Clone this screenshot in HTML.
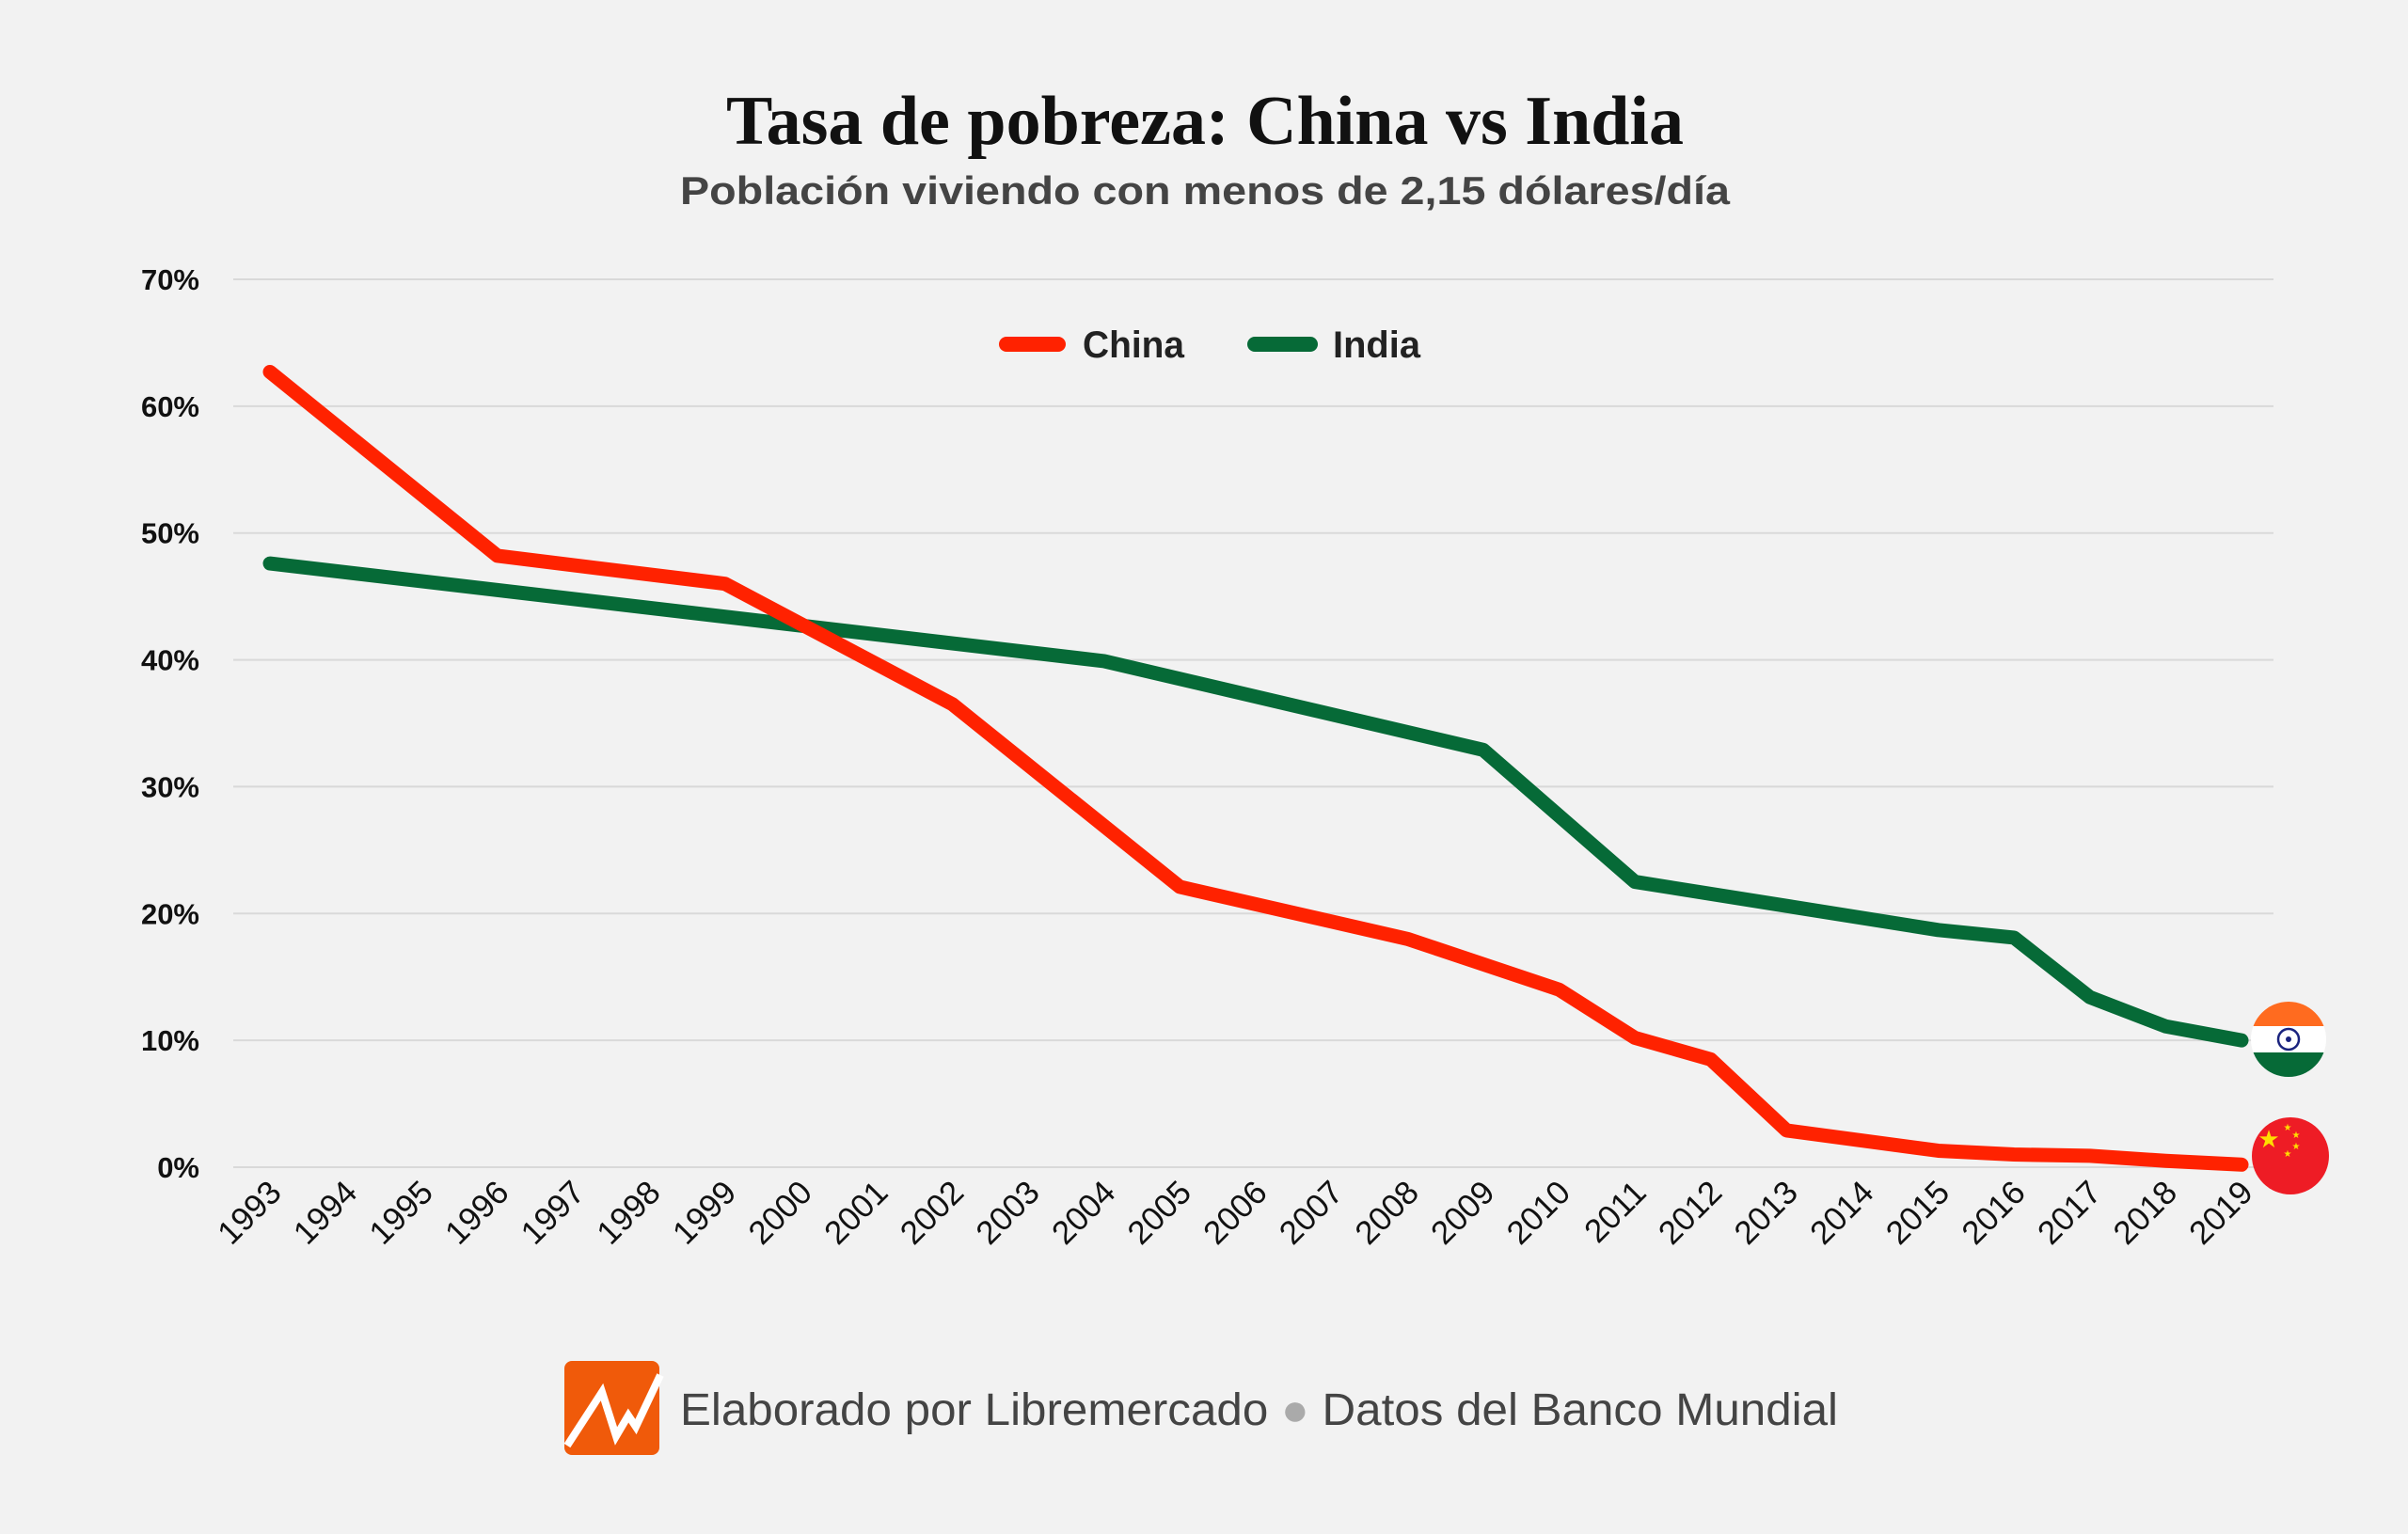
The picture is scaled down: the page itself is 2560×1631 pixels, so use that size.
<!DOCTYPE html>
<html><head><meta charset="utf-8"><style>
html,body{margin:0;padding:0;background:#f2f2f2;}
svg{display:block;}
</style></head><body>
<svg id="chart" width="2560" height="1631" viewBox="0 0 2560 1631" xmlns="http://www.w3.org/2000/svg">
<rect width="2560" height="1631" fill="#f2f2f2"/>
<text x="1281" y="153" text-anchor="middle" font-family="Liberation Serif, serif" font-weight="bold" font-size="74" fill="#111" textLength="1018" lengthAdjust="spacingAndGlyphs">Tasa de pobreza: China vs India</text>
<text x="1281" y="217" text-anchor="middle" font-family="Liberation Sans, sans-serif" font-weight="bold" font-size="42" fill="#444" textLength="1116" lengthAdjust="spacingAndGlyphs">Población viviendo con menos de 2,15 dólares/día</text>
<g id="grid"></g>
<g id="ylabels"></g>
<g id="xlabels"></g>
<g id="lines"></g>
<g>
<line x1="1070" y1="366" x2="1125" y2="366" stroke="#ff2200" stroke-width="16" stroke-linecap="round"/>
<text x="1151" y="380" font-family="Liberation Sans, sans-serif" font-weight="bold" font-size="40" fill="#222" textLength="108" lengthAdjust="spacingAndGlyphs">China</text>
<line x1="1334" y1="366" x2="1393" y2="366" stroke="#066a37" stroke-width="16" stroke-linecap="round"/>
<text x="1417" y="380" font-family="Liberation Sans, sans-serif" font-weight="bold" font-size="40" fill="#222" textLength="93" lengthAdjust="spacingAndGlyphs">India</text>
</g>
<g>
<clipPath id="ci"><circle cx="2433" cy="1105" r="40"/></clipPath>
<g clip-path="url(#ci)">
<rect x="2390" y="1060" width="90" height="31" fill="#ff6b1f"/>
<rect x="2390" y="1091" width="90" height="28" fill="#ffffff"/>
<rect x="2390" y="1119" width="90" height="31" fill="#066a37"/>
</g>
<circle cx="2433" cy="1105" r="11" fill="none" stroke="#1a237e" stroke-width="2.5"/>
<circle cx="2433" cy="1105" r="3" fill="#1a237e"/>
</g>
<g>
<circle cx="2435" cy="1229" r="41" fill="#ee1c25"/>
<text x="2412" y="1220" font-size="26" fill="#ffde00" font-family="DejaVu Sans, sans-serif" text-anchor="middle">★</text>
<text x="2432" y="1202" font-size="10" fill="#ffde00" font-family="DejaVu Sans, sans-serif" text-anchor="middle">★</text>
<text x="2441" y="1210" font-size="10" fill="#ffde00" font-family="DejaVu Sans, sans-serif" text-anchor="middle">★</text>
<text x="2441" y="1222" font-size="10" fill="#ffde00" font-family="DejaVu Sans, sans-serif" text-anchor="middle">★</text>
<text x="2432" y="1230" font-size="10" fill="#ffde00" font-family="DejaVu Sans, sans-serif" text-anchor="middle">★</text>
</g>
<g>
<g>
<rect x="600" y="1447" width="101" height="100" rx="8" fill="#f05a0a"/>
<polyline points="603,1537 640,1480 655,1527 668,1505 676,1517 702,1462" fill="none" stroke="#fff" stroke-width="8"/>
</g>
<text x="723" y="1515" font-family="Liberation Sans, sans-serif" font-size="48" fill="#444" textLength="1231" lengthAdjust="spacingAndGlyphs">Elaborado por Libremercado <tspan fill="#aaa">●</tspan> Datos del Banco Mundial</text>
</g>
</svg>
<script>
const years = [1993,1994,1995,1996,1997,1998,1999,2000,2001,2002,2003,2004,2005,2006,2007,2008,2009,2010,2011,2012,2013,2014,2015,2016,2017,2018,2019];
const chinaYears = [1993,1996,1999,2002,2005,2008,2010,2011,2012,2013,2015,2016,2017,2018,2019];
const chinaValues = [62.7,48.2,46.0,36.5,22.1,18.0,14.0,10.2,8.5,2.9,1.3,1.0,0.9,0.5,0.2];
const indiaYears = [1993,2004,2009,2011,2015,2016,2017,2018,2019];
const indiaValues = [47.6,39.9,32.9,22.5,18.7,18.1,13.4,11.1,10.0];
const yTicks = [0,10,20,30,40,50,60,70];
const yTickLabels = ["0%","10%","20%","30%","40%","50%","60%","70%"];

const NS = "http://www.w3.org/2000/svg";
const X0 = 287, X1 = 2383, Y0 = 1241, Y70 = 297;
function xs(yr){ return X0 + (yr - 1993) * (X1 - X0) / 26; }
function ys(v){ return Y0 - v * (Y0 - Y70) / 70; }

const grid = document.getElementById('grid');
const yl = document.getElementById('ylabels');
yTicks.forEach((t,i)=>{
  const l = document.createElementNS(NS,'line');
  
  
  l.setAttribute('x1',248); l.setAttribute('x2',2417);
  l.setAttribute('y1',ys(t)); l.setAttribute('y2',ys(t));
  l.setAttribute('stroke','#d9d9d9'); l.setAttribute('stroke-width','2');
  grid.appendChild(l);
  const tx = document.createElementNS(NS,'text');
  
  
  tx.setAttribute('x',212); tx.setAttribute('y',ys(t)+11);
  tx.setAttribute('text-anchor','end');
  tx.setAttribute('font-family','Liberation Sans, sans-serif');
  tx.setAttribute('font-weight','bold'); tx.setAttribute('font-size','31');
  tx.setAttribute('fill','#111');
  tx.textContent = yTickLabels[i];
  yl.appendChild(tx);
});
const xl = document.getElementById('xlabels');
years.forEach(yr=>{
  const tx = document.createElementNS(NS,'text');
  
  
  const x = xs(yr)+14, y = 1270;
  tx.setAttribute('x',x); tx.setAttribute('y',y);
  tx.setAttribute('text-anchor','end');
  tx.setAttribute('transform','rotate(-45 '+x+' '+y+')');
  tx.setAttribute('font-family','Liberation Sans, sans-serif');
  tx.setAttribute('font-size','35'); tx.setAttribute('fill','#111');
  tx.textContent = yr;
  xl.appendChild(tx);
});
const lines = document.getElementById('lines');
function drawLine(yrs, vals, color, name){
  const p = document.createElementNS(NS,'polyline');
  
  
  p.setAttribute('points', yrs.map((y,i)=>xs(y)+','+ys(vals[i])).join(' '));
  p.setAttribute('fill','none'); p.setAttribute('stroke',color);
  p.setAttribute('stroke-width','15'); p.setAttribute('stroke-linecap','round');
  p.setAttribute('stroke-linejoin','round');
  lines.appendChild(p);
}
drawLine(indiaYears, indiaValues, '#066a37', 'india-line');
drawLine(chinaYears, chinaValues, '#ff2200', 'china-line');
</script>
</body></html>
